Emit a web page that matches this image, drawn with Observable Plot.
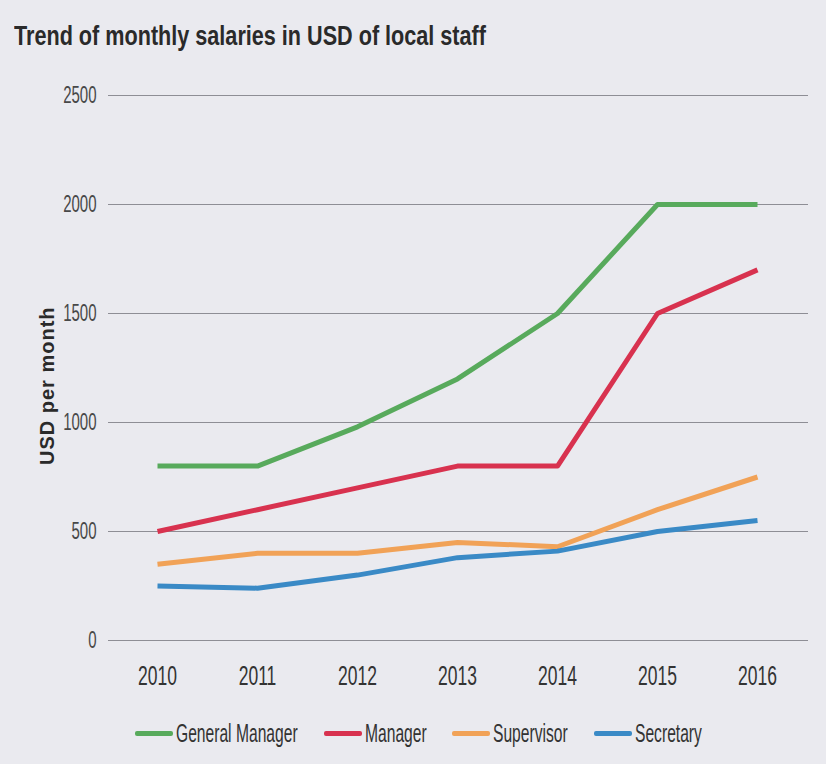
<!DOCTYPE html>
<html>
<head>
<meta charset="utf-8">
<script src="https://cdn.jsdelivr.net/npm/d3@7"></script>
<script src="https://cdn.jsdelivr.net/npm/@observablehq/plot@0.6"></script>
<style>
  html, body { margin: 0; padding: 0; background: #eaeaef; }
  body { width: 826px; height: 764px; overflow: hidden; position: relative;
         font-family: "Liberation Sans", Arial, sans-serif; }
  #title { position: absolute; left: 14px; top: 23px; font-size: 27px; line-height: 27px; font-weight: bold; color: #2a2a2a; white-space: nowrap; transform-origin: 0 0; }
  #chart { position: absolute; left: 0; top: 70px; }
  .item { position: absolute; top: 721px; height: 24px; display: flex; align-items: center; }
  .sw { width: 38px; height: 5px; border-radius: 2px; margin-right: 3px; }
  .lab { display: inline-block; font-size: 25px; line-height: 24px; color: #333; transform-origin: 0 50%; white-space: nowrap; }
</style>
</head>
<body>
<div id="title"></div>
<div id="chart"></div>
<div id="legend"></div>
<script>
const titleText = "Trend of monthly salaries in USD of local staff";
const yLabel = "USD per month";
const years = [2010, 2011, 2012, 2013, 2014, 2015, 2016];
const seriesNames = ["General Manager", "Manager", "Supervisor", "Secretary"];
const seriesColors = ["#58aa5c", "#d8324f", "#f1a257", "#3a8ac6"];
const generalManager = [800, 800, 980, 1200, 1500, 2000, 2000];
const manager = [500, 600, 700, 800, 800, 1500, 1700];
const supervisor = [350, 400, 400, 450, 430, 600, 750];
const secretary = [250, 240, 300, 380, 410, 500, 550];
const yTicks = [0, 500, 1000, 1500, 2000, 2500];

const seriesValues = [generalManager, manager, supervisor, secretary];
const data = seriesNames.flatMap((name, i) =>
  years.map((yr, j) => ({ series: name, year: yr, value: seriesValues[i][j] })));

// narrow-font emulation
const NARROW = 0.625;

const titleEl = document.getElementById("title");
titleEl.textContent = titleText;
const tw = titleEl.getBoundingClientRect().width;
titleEl.style.transform = `scale(${472 / tw}, 1)`;

const chart = Plot.plot({
  width: 826,
  height: 640,
  marginTop: 25,
  marginBottom: 70,
  marginLeft: 108,
  marginRight: 18,
  style: { background: "transparent", fontFamily: "'Liberation Sans', Arial, sans-serif", color: "#333" },
  x: { type: "linear", domain: [2010, 2016], range: [157, 757], axis: null },
  y: { domain: [0, 2500], axis: null },
  color: { domain: seriesNames, range: seriesColors },
  marks: [
    Plot.ruleY(yTicks, { stroke: "#8e8e95", strokeWidth: 1.1 }),
    Plot.axisY({ ticks: yTicks, tickSize: 0, tickPadding: 12, tickFormat: d => String(d), label: null, fontSize: 24, fill: "#484848" }),
    Plot.axisX({ ticks: years, tickSize: 0, tickPadding: 25, tickFormat: d => String(d), label: null, fontSize: 28, fill: "#333" }),
    Plot.line(data, { x: "year", y: "value", z: "series", stroke: "series", strokeWidth: 5, strokeLinejoin: "round", strokeLinecap: "butt" }),
    Plot.text([yLabel], { frameAnchor: "left", rotate: -90, dx: -61, dy: 97, fontSize: 20, fontWeight: "bold", fill: "#2a2a2a" })
  ]
});
chart.querySelectorAll('g[aria-label$="tick label"] text').forEach(t => {
  t.setAttribute("transform", (t.getAttribute("transform") || "") + ` scale(${NARROW},1)`);
});
chart.querySelectorAll("text").forEach(t => {
  if (t.textContent === yLabel) t.style.letterSpacing = "1px";
});
document.getElementById("chart").appendChild(chart);

const legend = document.getElementById("legend");
let lx = 135;
seriesNames.forEach((name, i) => {
  const item = document.createElement("div");
  item.className = "item";
  item.style.left = lx + "px";
  const sw = document.createElement("div");
  sw.className = "sw";
  sw.style.background = seriesColors[i];
  const lab = document.createElement("span");
  lab.className = "lab";
  lab.textContent = name;
  item.appendChild(sw);
  item.appendChild(lab);
  legend.appendChild(item);
  const w = lab.getBoundingClientRect().width;
  lab.style.transform = `scale(${NARROW},1)`;
  lx += 41 + w * NARROW + 26;
});
</script>
</body>
</html>
